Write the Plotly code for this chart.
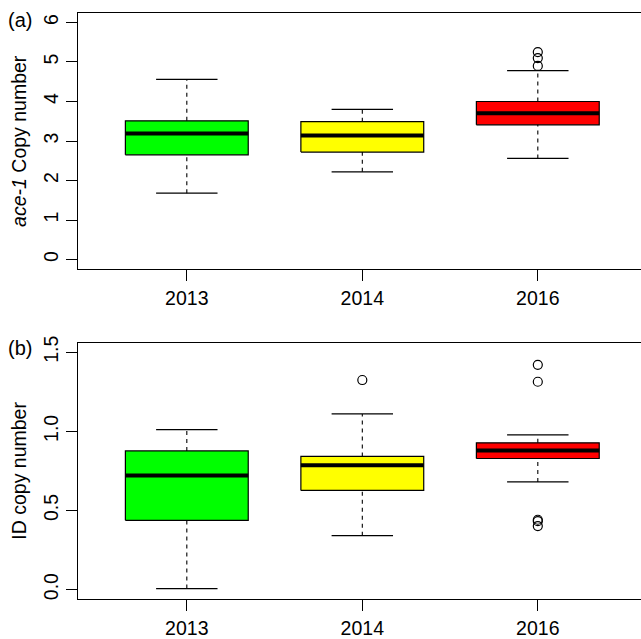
import plotly.graph_objects as go

# groups
years = ["2013", "2014", "2016"]
box_colors = ["#00FF00", "#FFFF00", "#FF0000"]

# (a) ace-1 copy number, box stats
ace_low = [1.68, 2.22, 2.56]
ace_q1 = [2.65, 2.72, 3.41]
ace_med = [3.19, 3.14, 3.70]
ace_q3 = [3.51, 3.49, 4.00]
ace_high = [4.56, 3.80, 4.78]
ace_out = [[], [], [4.90, 5.10, 5.25]]

# (b) ID copy number
id_low = [0.006, 0.34, 0.68]
id_q1 = [0.437, 0.626, 0.828]
id_med = [0.721, 0.786, 0.878]
id_q3 = [0.876, 0.841, 0.927]
id_high = [1.011, 1.11, 0.977]
id_out = [[], [1.324], [1.42, 1.313, 0.441, 0.432, 0.401]]

FONT = "Liberation Sans, Arial, Helvetica, sans-serif"
BOX_W = 0.7
CAP_W = 0.35


def add_boxes(fig, low, q1, med, q3, high, outs, xa, ya):
    for i, (lo, a, m, b, hi) in enumerate(zip(low, q1, med, q3, high)):
        x = i + 1
        hw = BOX_W / 2
        cw = CAP_W / 2
        # box
        fig.add_trace(go.Scatter(
            x=[x - hw, x + hw, x + hw, x - hw, x - hw],
            y=[a, a, b, b, a],
            mode="lines", fill="toself", fillcolor=box_colors[i],
            line=dict(color="black", width=1.2),
            xaxis=xa, yaxis=ya, hoverinfo="skip",
        ))
        # median
        fig.add_trace(go.Scatter(
            x=[x - hw, x + hw], y=[m, m], mode="lines",
            line=dict(color="black", width=4),
            xaxis=xa, yaxis=ya, hoverinfo="skip",
        ))
        # whiskers
        fig.add_trace(go.Scatter(
            x=[x, x, None, x, x], y=[lo, a, None, b, hi], mode="lines",
            line=dict(color="black", width=1.1, dash="4px,4px"),
            xaxis=xa, yaxis=ya, hoverinfo="skip",
        ))
        # caps
        fig.add_trace(go.Scatter(
            x=[x - cw, x + cw, None, x - cw, x + cw],
            y=[lo, lo, None, hi, hi], mode="lines",
            line=dict(color="black", width=1.2),
            xaxis=xa, yaxis=ya, hoverinfo="skip",
        ))
        if outs[i]:
            fig.add_trace(go.Scatter(
                x=[x] * len(outs[i]), y=outs[i], mode="markers",
                marker=dict(symbol="circle-open", size=9, color="black",
                            line=dict(width=1.2)),
                xaxis=xa, yaxis=ya, hoverinfo="skip",
            ))


fig = go.Figure()
add_boxes(fig, ace_low, ace_q1, ace_med, ace_q3, ace_high, ace_out, "x", "y")
add_boxes(fig, id_low, id_q1, id_med, id_q3, id_high, id_out, "x2", "y2")

xaxis_style = dict(
    range=[0.38, 3.588], tickvals=[1, 2, 3], ticktext=years,
    showline=True, mirror=True, linecolor="black", linewidth=1.3,
    ticks="outside", ticklen=11, tickcolor="black", tickwidth=1.2,
    showgrid=False, zeroline=False, tickfont=dict(size=19.5, color="black"),
)
yaxis_style = dict(
    showline=True, linecolor="black", linewidth=1.3,
    ticks="outside", ticklen=11, tickcolor="black", tickwidth=1.2,
    showgrid=False, zeroline=False, tickangle=-90,
    tickfont=dict(size=19.5, color="black"),
)

fig.update_layout(
    width=641, height=639,
    margin=dict(l=78, r=0, t=13, b=40),
    paper_bgcolor="white", plot_bgcolor="white",
    showlegend=False,
    font=dict(family=FONT, color="black"),
    xaxis=dict(**xaxis_style, domain=[0, 1], anchor="y"),
    yaxis=dict(**yaxis_style, domain=[0.5631, 1], range=[-0.24, 6.24],
               tickvals=[0, 1, 2, 3, 4, 5, 6], anchor="x"),
    xaxis2=dict(**xaxis_style, domain=[0, 1], anchor="y2"),
    yaxis2=dict(**yaxis_style, domain=[0, 0.4374], range=[-0.06, 1.56],
                tickvals=[0, 0.5, 1.0, 1.5], ticktext=["0.0", "0.5", "1.0", "1.5"],
                anchor="x2"),
    annotations=[
        dict(text="(a)", x=-0.103, y=0.988, xref="paper", yref="paper",
             xanchor="center", yanchor="middle", showarrow=False,
             font=dict(size=20)),
        dict(text="(b)", x=-0.103, y=0.4283, xref="paper", yref="paper",
             xanchor="center", yanchor="middle", showarrow=False,
             font=dict(size=20)),
        dict(text="<i>ace-1</i> Copy number", x=-0.105, y=0.5, xref="paper",
             yref="y domain", xanchor="center", yanchor="middle",
             textangle=-90, showarrow=False, font=dict(size=19.5)),
        dict(text="ID copy number", x=-0.105, y=0.5, xref="paper",
             yref="y2 domain", xanchor="center", yanchor="middle",
             textangle=-90, showarrow=False, font=dict(size=19.5)),
    ],
)

fig.write_html(
    "out.html",
    config={"displayModeBar": False},
    post_script="document.body.style.margin='0px';document.body.style.overflow='hidden';",
)
